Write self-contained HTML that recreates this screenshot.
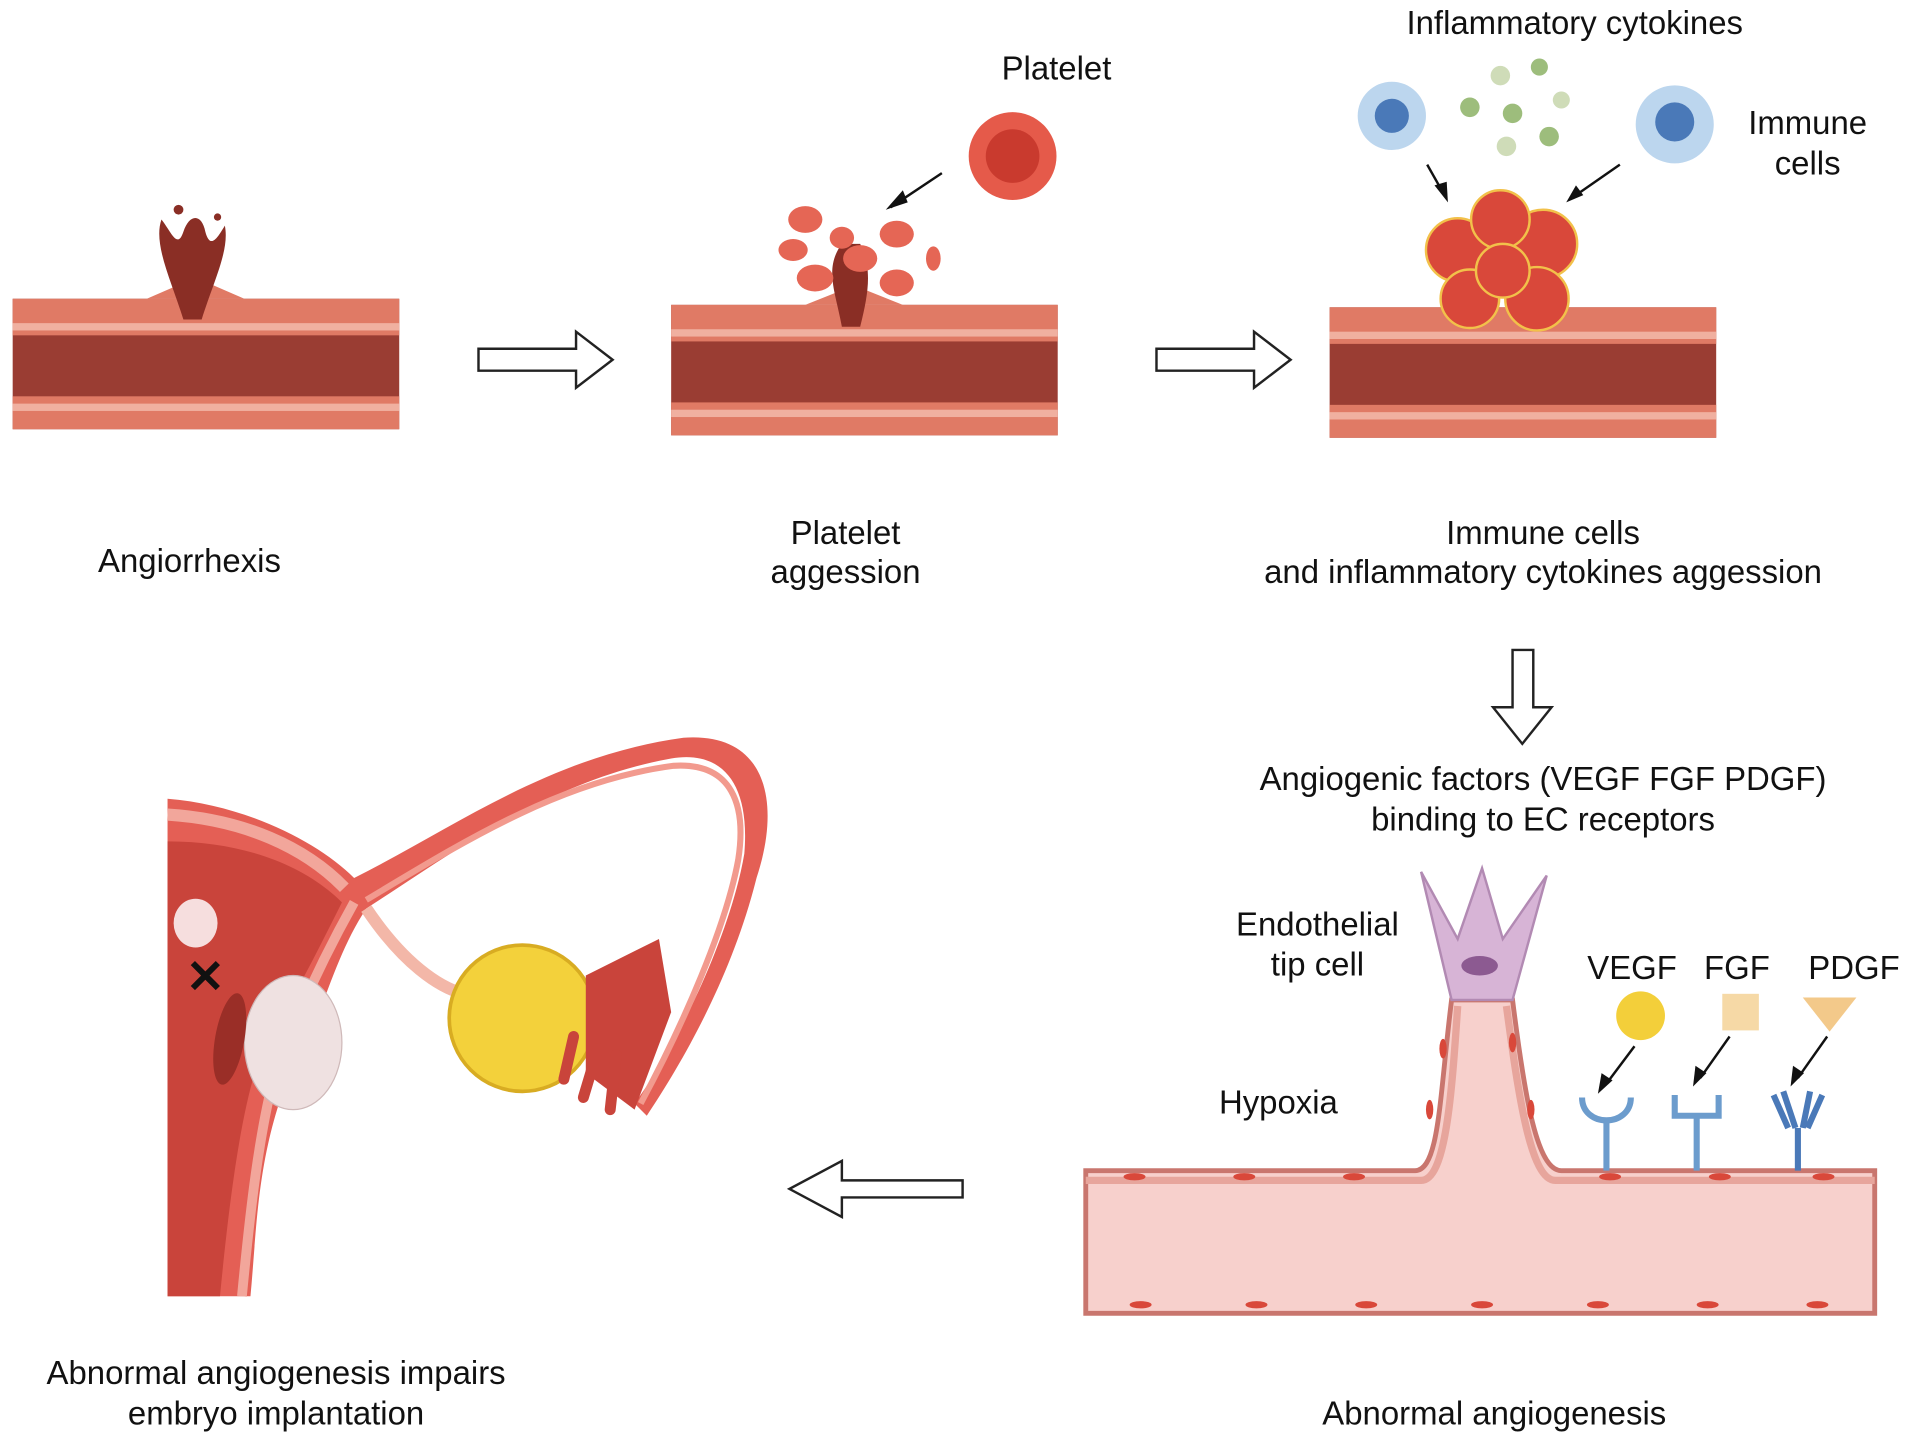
<!DOCTYPE html>
<html><head><meta charset="utf-8"><style>
html,body{margin:0;padding:0;background:#fff;}
svg{display:block;}
text{font-family:"Liberation Sans",Arial,sans-serif;font-size:27px;fill:#111;text-anchor:middle;}
</style></head><body>
<svg width="1913" height="1445" viewBox="0 0 1568 1185" xmlns="http://www.w3.org/2000/svg">
<defs>
<g id="vessel">
  <rect x="0" y="0" width="317" height="107" fill="#9a3d33"/>
  <rect x="0" y="0" width="317" height="30" fill="#e07a65"/>
  <rect x="0" y="20" width="317" height="6" fill="#f0b0a0"/>
  <rect x="0" y="80" width="317" height="27" fill="#e07a65"/>
  <rect x="0" y="86" width="317" height="6" fill="#f0b0a0"/>
</g>
<g id="rarrow"><path d="M0,-9 H80 V-23 L110,0 L80,23 V9 H0 Z" fill="#fff" stroke="#222" stroke-width="2"/></g>
</defs>

<!-- vessel 1 -->
<use href="#vessel" x="10" y="245"/>
<path d="M120,245 L150,232 L170,232 L200,245 Z" fill="#e07a65"/>
<path d="M150,262 C140,230 125,200 132,180 C140,190 145,205 150,190 C155,175 165,175 168,190 C172,205 178,195 184,185 C188,205 175,230 165,262 Z" fill="#8a2e25"/>
<circle cx="146" cy="172" r="4" fill="#8a2e25"/><circle cx="178" cy="178" r="3" fill="#8a2e25"/>
<use href="#rarrow" x="392" y="295"/>

<!-- vessel 2 -->
<use href="#vessel" x="550" y="250"/>
<path d="M660,250 L690,238 L710,238 L740,250 Z" fill="#e07a65"/>
<path d="M690,268 C685,240 675,220 690,200 L705,200 C715,220 712,240 705,268 Z" fill="#8a2e25"/>
<g fill="#e56655">
<ellipse cx="660" cy="180" rx="14" ry="11"/><ellipse cx="735" cy="192" rx="14" ry="11"/>
<ellipse cx="705" cy="212" rx="14" ry="11"/><ellipse cx="650" cy="205" rx="12" ry="9"/>
<ellipse cx="668" cy="228" rx="15" ry="11"/><ellipse cx="735" cy="232" rx="14" ry="11"/>
<ellipse cx="765" cy="212" rx="6" ry="10"/><ellipse cx="690" cy="195" rx="10" ry="9"/>
</g>
<circle cx="830" cy="128" r="36" fill="#e55a4a"/><circle cx="830" cy="128" r="22" fill="#c93a2e"/>
<path d="M772,142 L730,170" stroke="#111" stroke-width="2"/><path d="M726,172 L740,156 L744,166 Z" fill="#111"/>
<text x="866" y="65">Platelet</text>
<use href="#rarrow" x="948" y="295"/>

<!-- vessel 3 -->
<use href="#vessel" x="1090" y="252"/>
<g fill="#d9483a" stroke="#f2c14a" stroke-width="2">
<circle cx="1195" cy="205" r="26"/><circle cx="1265" cy="200" r="28"/><circle cx="1230" cy="180" r="24"/>
<circle cx="1205" cy="245" r="24"/><circle cx="1260" cy="245" r="26"/><circle cx="1232" cy="222" r="22"/>
</g>
<circle cx="1141" cy="95" r="28" fill="#bcd6ee"/><circle cx="1141" cy="95" r="14" fill="#4a79b8"/>
<circle cx="1373" cy="102" r="32" fill="#bcd6ee"/><circle cx="1373" cy="100" r="16" fill="#4a79b8"/>
<g fill="#9dbd7c"><circle cx="1205" cy="88" r="8"/><circle cx="1240" cy="93" r="8"/><circle cx="1262" cy="55" r="7"/><circle cx="1270" cy="112" r="8"/></g>
<g fill="#cfdcb8"><circle cx="1230" cy="62" r="8"/><circle cx="1280" cy="82" r="7"/><circle cx="1235" cy="120" r="8"/></g>
<path d="M1170,135 L1183,158" stroke="#111" stroke-width="2"/><path d="M1187,166 L1176,152 L1186,149 Z" fill="#111"/>
<path d="M1328,135 L1292,160" stroke="#111" stroke-width="2"/><path d="M1284,166 L1292,152 L1298,160 Z" fill="#111"/>
<text x="1291" y="28">Inflammatory cytokines</text>
<text x="1482" y="110">Immune</text><text x="1482" y="143">cells</text>

<text x="155" y="469">Angiorrhexis</text>
<text x="693" y="446">Platelet</text><text x="693" y="478">aggession</text>
<text x="1265" y="446">Immune cells</text><text x="1265" y="478">and inflammatory cytokines aggession</text>

<path d="M1240,533 H1257 V580 H1272 L1248,610 L1224,580 H1240 Z" fill="#fff" stroke="#222" stroke-width="2"/>
<text x="1265" y="648">Angiogenic factors (VEGF FGF PDGF)</text>
<text x="1265" y="681">binding to EC receptors</text>

<!-- angiogenesis vessel -->
<path d="M890,960 H1160 C1180,960 1180,900 1190,820 H1240 C1250,900 1260,960 1280,960 H1537 V1077 H890 Z" fill="#f7d0cc" stroke="#c9766e" stroke-width="4"/>
<path d="M890,968 H1165 C1185,968 1190,900 1195,825 M1235,825 C1245,900 1255,968 1275,968 H1537" fill="none" stroke="#e7a59c" stroke-width="6"/>
<path d="M1190,820 L1165,715 L1195,770 L1215,712 L1232,770 L1268,718 L1240,820 Z" fill="#d7b4d6" stroke="#b28ab3" stroke-width="2"/>
<ellipse cx="1213" cy="792" rx="15" ry="8" fill="#8c5a91"/>
<g fill="#d9483a">
<ellipse cx="930" cy="965" rx="9" ry="3"/><ellipse cx="1020" cy="965" rx="9" ry="3"/><ellipse cx="1110" cy="965" rx="9" ry="3"/>
<ellipse cx="1320" cy="965" rx="9" ry="3"/><ellipse cx="1410" cy="965" rx="9" ry="3"/><ellipse cx="1495" cy="965" rx="9" ry="3"/>
<ellipse cx="935" cy="1070" rx="9" ry="3"/><ellipse cx="1030" cy="1070" rx="9" ry="3"/><ellipse cx="1120" cy="1070" rx="9" ry="3"/>
<ellipse cx="1215" cy="1070" rx="9" ry="3"/><ellipse cx="1310" cy="1070" rx="9" ry="3"/><ellipse cx="1400" cy="1070" rx="9" ry="3"/><ellipse cx="1490" cy="1070" rx="9" ry="3"/>
<ellipse cx="1183" cy="860" rx="3" ry="8"/><ellipse cx="1172" cy="910" rx="3" ry="8"/><ellipse cx="1240" cy="855" rx="3" ry="8"/><ellipse cx="1255" cy="910" rx="3" ry="8"/>
</g>
<circle cx="1345" cy="833" r="20" fill="#f3cf3a"/>
<rect x="1412" y="815" width="30" height="30" fill="#f6d9a6"/>
<path d="M1478,818 H1522 L1500,846 Z" fill="#f3c98a"/>
<g stroke="#6c9ccd" stroke-width="5" fill="none">
<path d="M1297,900 C1297,925 1337,925 1337,900"/><path d="M1317,918 V960"/>
<path d="M1373,898 V915 H1409 V898"/><path d="M1391,915 V960"/>
<path d="M1454,898 L1466,925 M1462,895 L1472,925 M1484,895 L1478,925 M1494,898 L1482,925 M1474,925 V960" stroke="#4a79b8"/>
</g>
<g stroke="#111" stroke-width="2"><path d="M1340,858 L1316,890"/><path d="M1418,850 L1394,884"/><path d="M1498,850 L1474,884"/></g>
<g fill="#111"><path d="M1310,897 L1313,880 L1322,886 Z"/><path d="M1388,891 L1390,874 L1399,880 Z"/><path d="M1468,891 L1470,874 L1479,880 Z"/></g>
<text x="1080" y="767">Endothelial</text><text x="1080" y="800">tip cell</text>
<text x="1048" y="913">Hypoxia</text>
<text x="1338" y="803">VEGF</text><text x="1424" y="803">FGF</text><text x="1520" y="803">PDGF</text>

<path d="M789,968 H690 V952 L647,975 L690,998 V982 H789 Z" fill="#fff" stroke="#222" stroke-width="2"/>

<!-- uterus -->
<path d="M137,655 C200,660 260,690 290,720 C370,680 450,620 560,605 C630,600 640,660 620,720 C600,800 560,870 530,915 L520,905 C560,850 600,760 610,700 C615,640 590,615 550,622 C450,640 370,700 300,745 C270,790 260,850 230,900 C210,960 210,1010 205,1063 H137 Z" fill="#e45f55"/>
<path d="M300,738 C380,690 460,640 552,628 C600,625 612,660 605,705 C595,760 560,840 525,905" fill="none" stroke="#f29a8e" stroke-width="5"/>
<path d="M137,668 C200,672 250,695 282,728" fill="none" stroke="#f2a69b" stroke-width="10"/>
<path d="M137,690 C200,690 250,710 280,740 C260,780 240,820 215,860 C200,900 190,960 180,1063 H137 Z" fill="#c9443b"/>
<path d="M290,740 C262,790 240,840 225,880 C212,930 205,990 198,1063" fill="none" stroke="#f2a69b" stroke-width="8"/>
<path d="M300,745 C330,790 360,810 380,815" stroke="#f3b7a8" stroke-width="10" fill="none"/>
<circle cx="428" cy="835" r="60" fill="#f3d13b" stroke="#d8ac22" stroke-width="3"/>
<path d="M480,800 L540,770 L550,830 L520,910 L480,880 Z" fill="#c9443b"/>
<g stroke="#c9443b" stroke-width="9" stroke-linecap="round"><path d="M490,860 L478,900"/><path d="M505,865 L500,910"/><path d="M470,850 L462,885"/></g>
<ellipse cx="240" cy="855" rx="40" ry="55" fill="#efe1e1" stroke="#cfb9b9"/>
<ellipse cx="188" cy="852" rx="12" ry="38" fill="#9a2e27" transform="rotate(10 188 852)"/>
<ellipse cx="160" cy="757" rx="18" ry="20" fill="#f6dede"/>
<text x="168" y="814" style="font-size:38px;font-weight:bold">✕</text>

<text x="226" y="1135">Abnormal angiogenesis impairs</text>
<text x="226" y="1168">embryo implantation</text>
<text x="1225" y="1168">Abnormal angiogenesis</text>
</svg>
</body></html>
